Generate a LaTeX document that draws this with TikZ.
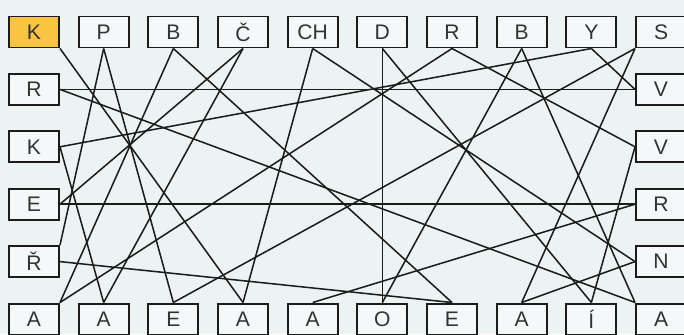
\documentclass[tikz,border=0pt]{standalone}
\usepackage{fontspec}
\setmainfont{Liberation Sans}
\definecolor{paper}{RGB}{237,243,243}
\definecolor{boxfill}{RGB}{245,248,248}
\definecolor{keyfill}{RGB}{250,196,66}
\definecolor{ink}{RGB}{28,28,28}

\begin{document}
\begin{tikzpicture}[x=0.03cm,y=-0.03cm,
  letter/.style={draw=ink,line width=1.7pt,fill=boxfill,text=ink!90,
    minimum width=1.5cm,minimum height=0.93cm,inner sep=0pt,
    font=\fontsize{18}{20}\selectfont},
  link/.style={ink,line width=1.3pt}]
  \fill[paper] (0,0) rectangle (684,334);
  \useasboundingbox (0,0) rectangle (684,334);

  % top row, the start letter in yellow
  \node[letter,fill=keyfill] (t0) at (34,32) {K};
  \foreach \t [count=\i] in {P,B,Č,CH,D,R,B,Y,S}
    \node[letter] (t\i) at (34+69.67*\i,32) {\t};
  % side columns
  \foreach \t [count=\i] in {R,K,E,Ř}
    \node[letter] (l\i) at (34,32+57.4*\i) {\t};
  \foreach \t [count=\i] in {V,V,R,N}
    \node[letter] (r\i) at (661,32+57.4*\i) {\t};
  % bottom row
  \foreach \t [count=\i from 0] in {A,A,E,A,A,O,E,A,Í,A}
    \node[letter] (b\i) at (34+69.67*\i,319) {\t};

  % the path through all letters
  \foreach \a/\b in {t0.south east/b3.north, b3.north/t4.south,
      t4.south/r4.west, r4.west/b7.north, b7.north/t9.south west,
      t9.south west/b2.north, b2.north/t1.south, t1.south/l4.north east,
      l4.east/b6.north, b6.north/t2.south, t2.south/b0.north east,
      b0.north east/t6.south, t6.south/r2.west, r2.west/b8.north,
      b8.north/t5.south, t5.south/b5.north, b5.north/t7.south,
      t7.south/b9.north west, b9.north west/l1.east, l1.east/r1.west,
      r1.west/t8.south, t8.south/l2.east, l2.east/b1.north,
      b1.north/t3.south, t3.south/l3.east, l3.east/r3.west,
      r3.west/b4.north}
    \draw[link] (\a) -- (\b);
\end{tikzpicture}
\end{document}
